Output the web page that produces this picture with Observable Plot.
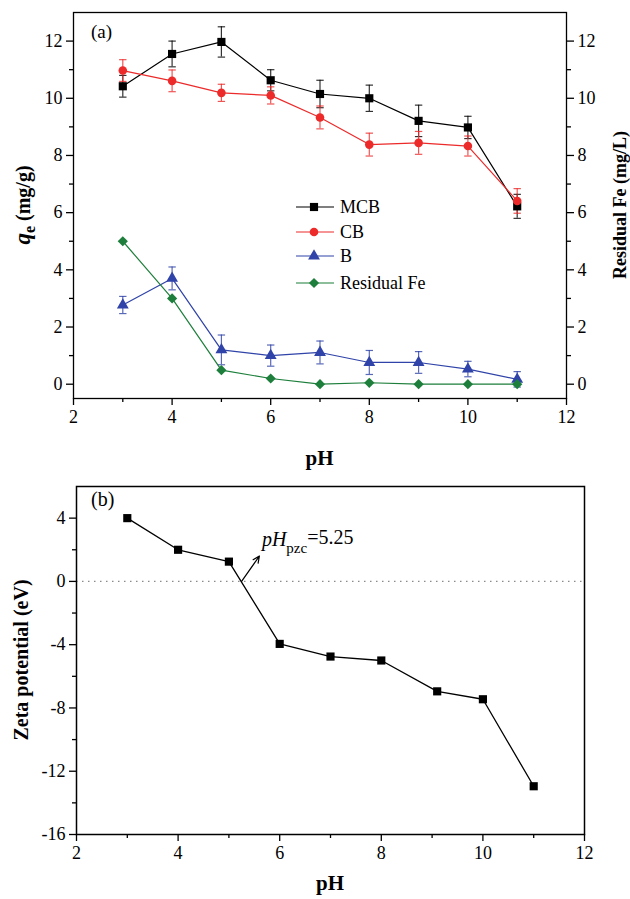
<!DOCTYPE html>
<html>
<head>
<meta charset="utf-8">
<script src="https://cdn.jsdelivr.net/npm/d3@7"></script>
<script src="https://cdn.jsdelivr.net/npm/@observablehq/plot@0.6"></script>
<style>
  html, body { margin: 0; padding: 0; background: #fff; }
  #wrap { width: 630px; }
  #wrap svg { display: block; }
</style>
</head>
<body>
<div id="wrap"></div>
<script>
// ---------- Data: panel (a) ----------
const pH = [3, 4, 5, 6, 7, 8, 9, 10, 11];
const mcb    = [10.42, 11.55, 11.97, 10.63, 10.15, 10.00, 9.21, 8.98, 6.22];
const mcbErr = [0.38, 0.45, 0.53, 0.37, 0.48, 0.46, 0.55, 0.39, 0.42];
const cb     = [10.97, 10.61, 10.19, 10.10, 9.33, 8.38, 8.44, 8.33, 6.41];
const cbErr  = [0.38, 0.38, 0.30, 0.30, 0.40, 0.40, 0.40, 0.35, 0.43];
const bVals  = [2.77, 3.70, 1.20, 1.00, 1.11, 0.76, 0.76, 0.53, 0.17];
const bErr   = [0.30, 0.40, 0.52, 0.37, 0.40, 0.42, 0.38, 0.27, 0.27];
const fe     = [5.00, 3.00, 0.49, 0.20, 0.00, 0.05, 0.00, 0.00, 0.00];
const seriesNames = ["MCB", "CB", "B", "Residual Fe"];
const seriesColors = ["#000000", "#ec2a2a", "#2f43a8", "#1d7f3b"];
const seriesSymbols = ["square", "circle", "triangle", "diamond2"];
const xMajorA = [2, 4, 6, 8, 10, 12];
const xMinorA = [3, 5, 7, 9, 11];
const yMajorA = [0, 2, 4, 6, 8, 10, 12];
const yMinorA = [1, 3, 5, 7, 9, 11];

// ---------- Data: panel (b) ----------
const zetaPH = [3, 4, 5, 6, 7, 8, 9.1, 10, 11];
const zeta   = [4.0, 2.0, 1.25, -3.95, -4.75, -5.0, -6.95, -7.45, -12.95];
const pzc = 5.25;
const pzcArrowEnd = [5.6, 1.6];
const yMajorB = [-16, -12, -8, -4, 0, 4];
const yMinorB = [-14, -10, -6, -2, 2];

const FONT = "'Liberation Serif', 'Times New Roman', Times, serif";

// build long table for (a)
const valuesBySeries = [mcb, cb, bVals, fe];
const errBySeries = [mcbErr, cbErr, bErr, null];
const rowsA = [];
seriesNames.forEach((s, si) => {
  pH.forEach((x, i) => {
    rowsA.push({series: s, x, y: valuesBySeries[si][i], e: errBySeries[si] ? errBySeries[si][i] : null});
  });
});
const capHalf = 0.075;

const marksA = [
  Plot.frame({strokeWidth: 1.3}),
  Plot.axisX({ticks: xMajorA, tickSize: 7, tickPadding: 5, label: null, strokeWidth: 1.3, fontSize: 18}),
  Plot.axisX({ticks: xMinorA, tickSize: 4, tickFormat: () => "", label: null, strokeWidth: 1.3}),
  Plot.axisY({anchor: "left", ticks: yMajorA, tickSize: 7, tickPadding: 4, label: null, strokeWidth: 1.3, fontSize: 18}),
  Plot.axisY({anchor: "left", ticks: yMinorA, tickSize: 4, tickFormat: () => "", label: null, strokeWidth: 1.3}),
  Plot.axisY({anchor: "right", ticks: yMajorA, tickSize: 7, tickPadding: 4, label: null, strokeWidth: 1.3, fontSize: 18}),
  Plot.axisY({anchor: "right", ticks: yMinorA, tickSize: 4, tickFormat: () => "", label: null, strokeWidth: 1.3})
];
seriesNames.forEach((s, si) => {
  const rows = rowsA.filter(d => d.series === s);
  const c = seriesColors[si];
  const withErr = rows.filter(d => d.e != null);
  if (withErr.length) {
    marksA.push(Plot.ruleX(withErr, {x: "x", y1: d => d.y - d.e, y2: d => d.y + d.e, stroke: c, strokeOpacity: 0.8, strokeWidth: 1.2}));
    marksA.push(Plot.link(withErr, {x1: d => d.x - capHalf, x2: d => d.x + capHalf, y1: d => d.y + d.e, y2: d => d.y + d.e, stroke: c, strokeOpacity: 0.8, strokeWidth: 1.2}));
    marksA.push(Plot.link(withErr, {x1: d => d.x - capHalf, x2: d => d.x + capHalf, y1: d => d.y - d.e, y2: d => d.y - d.e, stroke: c, strokeOpacity: 0.8, strokeWidth: 1.2}));
  }
  marksA.push(Plot.line(rows, {x: "x", y: "y", stroke: c, strokeWidth: 1.2}));
});
const symbolR = {square: 4.6, circle: 4.3, triangle: 4.4, diamond2: 4.6};
seriesNames.forEach((s, si) => {
  const rows = rowsA.filter(d => d.series === s);
  const c = seriesColors[si];
  marksA.push(Plot.dot(rows, {x: "x", y: "y", fill: c, stroke: "none", symbol: () => seriesSymbols[si], r: symbolR[seriesSymbols[si]]}));
});

const chartA = Plot.plot({
  width: 630, height: 475,
  marginLeft: 73, marginRight: 64, marginTop: 12, marginBottom: 77,
  x: {domain: [2, 12]},
  y: {domain: [-0.5, 13]},
  symbol: {type: "identity"},
  style: {fontFamily: FONT, fontSize: "18px", color: "#000", background: "#fff", overflow: "visible"},
  marks: marksA
});

// ---------- panel (b) ----------
const rowsB = zetaPH.map((x, i) => ({x, y: zeta[i]}));
const chartB = Plot.plot({
  width: 630, height: 424,
  marginLeft: 76, marginRight: 46, marginTop: 11, marginBottom: 65,
  x: {domain: [2, 12]},
  y: {domain: [-16, 6]},
  style: {fontFamily: FONT, fontSize: "18px", color: "#000", background: "#fff", overflow: "visible"},
  marks: [
    Plot.ruleY([0], {stroke: "#8a8a8a", strokeWidth: 1.3, strokeDasharray: "1.5,4.5"}),
    Plot.frame({strokeWidth: 1.5}),
    Plot.axisX({ticks: xMajorA, tickSize: 7, tickPadding: 5, label: null, strokeWidth: 1.3, fontSize: 18}),
    Plot.axisX({ticks: xMinorA, tickSize: 4, tickFormat: () => "", label: null, strokeWidth: 1.3}),
    Plot.axisY({anchor: "left", ticks: yMajorB, tickSize: 7, tickPadding: 4, tickFormat: d => String(d), label: null, strokeWidth: 1.3, fontSize: 18}),
    Plot.axisY({anchor: "left", ticks: yMinorB, tickSize: 4, tickFormat: () => "", label: null, strokeWidth: 1.3}),
    Plot.line(rowsB, {x: "x", y: "y", stroke: "#000", strokeWidth: 1.3}),
    Plot.dot(rowsB, {x: "x", y: "y", fill: "#000", symbol: "square", r: 4.6}),
    Plot.arrow([{x1: pzc, y1: 0, x2: pzcArrowEnd[0], y2: pzcArrowEnd[1]}], {x1: "x1", y1: "y1", x2: "x2", y2: "y2", stroke: "#000", strokeWidth: 1.2, headLength: 9, headAngle: 50})
  ]
});

const wrap = document.getElementById("wrap");
wrap.appendChild(chartA);
wrap.appendChild(chartB);

function addText(sel) {
  return sel.append("text").attr("font-family", FONT).attr("text-anchor", "start").attr("fill", "#000");
}

// ---------- text annotations / labels (a) ----------
const svgA = d3.select(chartA);
const xa = chartA.scale("x"), ya = chartA.scale("y");
addText(svgA).attr("x", 91).attr("y", 38).attr("font-size", 19).text("(a)");
addText(svgA).attr("x", (xa.apply(2) + xa.apply(12)) / 2).attr("y", 465)
  .attr("text-anchor", "middle").attr("font-size", 21).attr("font-weight", "bold").text("pH");
const yMidA = (ya.apply(-0.5) + ya.apply(13)) / 2;
const qLab = addText(svgA).attr("transform", `translate(30,${yMidA}) rotate(-90)`)
  .attr("text-anchor", "middle").attr("font-size", 20).attr("font-weight", "bold");
qLab.append("tspan").attr("font-style", "italic").attr("font-size", 23).text("q");
qLab.append("tspan").attr("font-size", 16).attr("dy", 5).text("e");
qLab.append("tspan").attr("dy", -5).text(" (mg/g)");
addText(svgA).attr("transform", `translate(626,${yMidA}) rotate(-90)`)
  .attr("text-anchor", "middle").attr("font-size", 18).attr("font-weight", "bold").text("Residual Fe (mg/L)");

// legend
const legY = [207, 232, 256, 283];
const symMap = {square: d3.symbolSquare, circle: d3.symbolCircle, triangle: d3.symbolTriangle, diamond2: d3.symbolDiamond2};
seriesNames.forEach((s, i) => {
  const g = svgA.append("g").attr("transform", `translate(0,${legY[i]})`);
  g.append("line").attr("x1", 296).attr("x2", 334).attr("y1", 0).attr("y2", 0).attr("stroke", seriesColors[i]).attr("stroke-width", 1.2);
  const r = symbolR[seriesSymbols[i]];
  g.append("path").attr("transform", "translate(314,0)").attr("fill", seriesColors[i])
    .attr("d", d3.symbol(symMap[seriesSymbols[i]], Math.PI * r * r)());
  addText(g).attr("x", 340).attr("y", 6).attr("font-size", 18).text(s);
});

// ---------- text annotations / labels (b) ----------
const svgB = d3.select(chartB);
const xb = chartB.scale("x"), yb = chartB.scale("y");
addText(svgB).attr("x", 91).attr("y", 31).attr("font-size", 20).text("(b)");
addText(svgB).attr("x", (xb.apply(2) + xb.apply(12)) / 2).attr("y", 415)
  .attr("text-anchor", "middle").attr("font-size", 21).attr("font-weight", "bold").text("pH");
const yMidB = (yb.apply(-16) + yb.apply(6)) / 2;
addText(svgB).attr("transform", `translate(28,${yMidB}) rotate(-90)`)
  .attr("text-anchor", "middle").attr("font-size", 20).attr("font-weight", "bold").text("Zeta potential (eV)");
const ann = addText(svgB).attr("x", xb.apply(pzcArrowEnd[0]) + 3).attr("y", yb.apply(pzcArrowEnd[1]) - 10)
  .attr("font-size", 20);
ann.append("tspan").attr("font-style", "italic").text("pH");
ann.append("tspan").attr("font-size", 15).attr("dy", 7).text("pzc");
ann.append("tspan").attr("dy", -9).text("=5.25");
</script>
</body>
</html>
